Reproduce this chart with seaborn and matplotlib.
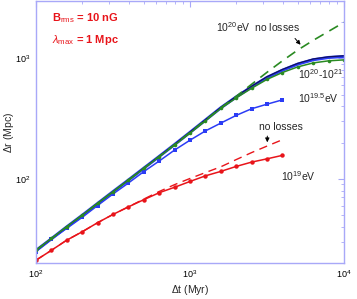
import matplotlib
matplotlib.use("Agg")
import matplotlib.pyplot as plt
import seaborn as sns
import pandas as pd
from matplotlib.ticker import LogLocator, NullFormatter

# ---- data ----
t_myr = [100, 126, 158, 200, 251, 316, 398, 501, 631, 794, 1000,
         1259, 1585, 1995, 2512, 3162, 3981, 5012, 6310, 7943, 10000]
t_short = t_myr[:17]

# 10^20 eV (green, markers)
r_e20 = [25.6, 32.0, 40.0, 50.0, 62.5, 78.0, 97.5, 122.0, 152.5, 191.0, 240.0,
         303.0, 384.6, 470.0, 565.0, 670.0, 764.0, 851.0, 918.0, 955.0, 973.0]
# 10^21 eV (blue, thick)
r_e21 = [25.4, 31.8, 39.8, 49.9, 62.4, 78.2, 97.7, 122.5, 153.5, 192.8, 243.2,
         307.6, 389.0, 478.6, 580.8, 695.0, 798.0, 897.5, 975.0, 1018.6, 1037.5]
# 10^20.5 eV (navy, thin)
r_e205 = [25.5, 31.9, 39.9, 50.0, 62.5, 78.3, 97.9, 122.8, 154.0, 193.5, 244.5,
          309.5, 392.0, 483.0, 588.0, 705.0, 810.0, 910.0, 990.0, 1032.0, 1052.0]
# 10^20 eV, no losses (green dashed)
r_e20_noloss = [25.4, 31.8, 39.8, 49.9, 62.4, 78.2, 97.7, 122.5, 153.5, 192.8, 243.2,
                307.6, 389.0, 484.0, 610.0, 767.0, 955.0, 1175.0, 1413.0, 1679.0, 1995.0]
# 10^19.5 eV (blue squares)
r_e195 = [24.9, 31.5, 38.7, 48.0, 60.0, 74.8, 92.3, 114.8, 140.6, 173.4, 209.4,
          250.0, 290.4, 336.5, 382.0, 416.9, 452.9]
# 10^19 eV (red circles)
r_e19 = [21.1, 25.5, 30.9, 36.4, 43.2, 50.6, 58.5, 67.1, 76.7, 85.1, 95.1,
         105.9, 115.3, 126.8, 137.7, 146.6, 156.7]
# 10^19 eV, no losses (red dashed)
r_e19_noloss = [21.1, 25.5, 30.9, 36.4, 43.2, 50.6, 58.5, 67.9, 78.5, 89.5, 100.7,
                112.7, 125.9, 144.5, 165.2, 187.1, 211.3]

x_ticks = [100, 1000, 10000]
x_ticklabels = [r"$10^{2}$", r"$10^{3}$", r"$10^{4}$"]
y_ticks = [100, 1000]
y_ticklabels = [r"$10^{2}$", r"$10^{3}$"]

# ---- style ----
sns.set_theme(style="white")
plt.rcParams["font.family"] = ["Liberation Sans", "DejaVu Sans"]
plt.rcParams["mathtext.fontset"] = "custom"
plt.rcParams["mathtext.rm"] = "Liberation Sans"
plt.rcParams["mathtext.it"] = "Liberation Sans:italic"
plt.rcParams["mathtext.bf"] = "Liberation Sans:bold"

fig = plt.figure(figsize=(3.57, 2.99), dpi=100)
ax = fig.add_axes([0.1008, 0.1204, 0.8628, 0.8763])

RED = "#e8141a"
BLUE = "#2b3cf5"
GREEN = "#2a8a22"
NAVY = "#101060"

def line(x, y, **kw):
    sns.lineplot(x=x, y=y, ax=ax, legend=False, sort=False, estimator=None, **kw)

line(t_short, r_e19_noloss, color=RED, lw=1.0, dashes=(6, 4))
line(t_short, r_e19, color=RED, lw=1.1, marker="o", markersize=3.2,
     markeredgewidth=0)
line(t_short, r_e195, color=BLUE, lw=1.1, marker="s", markersize=3.2,
     markeredgewidth=0)
line(t_myr, r_e21, color=BLUE, lw=2.2)
line(t_myr, r_e205, color=NAVY, lw=0.9)
line(t_myr, r_e20, color=GREEN, lw=1.1, marker="o", markersize=2.6,
     markeredgewidth=0)
line(t_myr, r_e20_noloss, color=GREEN, lw=1.2, dashes=(6, 4))

ax.set_xscale("log")
ax.set_yscale("log")
ax.set_xlim(100, 10000)
ax.set_ylim(20, 3000)

ax.set_xticks(x_ticks)
ax.set_xticklabels(x_ticklabels)
ax.set_yticks(y_ticks)
ax.set_yticklabels(y_ticklabels)
ax.xaxis.set_minor_locator(LogLocator(base=10, subs=range(2, 10)))
ax.yaxis.set_minor_locator(LogLocator(base=10, subs=range(2, 10)))
ax.xaxis.set_minor_formatter(NullFormatter())
ax.yaxis.set_minor_formatter(NullFormatter())

SPINE = "#a8a8f8"
for s in ax.spines.values():
    s.set_color(SPINE)
    s.set_linewidth(1.0)
ax.tick_params(which="both", direction="in", top=True, right=True,
               color=SPINE, labelsize=6.5, labelcolor="black")
ax.tick_params(which="major", length=4, width=0.8, pad=4)
ax.tick_params(which="minor", length=2.5, width=0.6)

ax.set_xlabel(r"$\Delta$t (Myr)", fontsize=7.5, labelpad=2)
ax.set_ylabel(r"$\Delta$r (Mpc)", fontsize=7.5)
ax.yaxis.set_label_coords(-0.066, 0.5)

# ---- annotations ----
ax.text(0.051, 0.935, r"B$_{\rm rms}$ = 10 nG", transform=ax.transAxes,
        color=RED, fontsize=8, fontweight="bold", va="center")
ax.text(0.051, 0.85, r"$\lambda_{\rm max}$ = 1 Mpc", transform=ax.transAxes,
        color=RED, fontsize=8, fontweight="bold", va="center")

ax.text(0.585, 0.902, r"10$^{20}$eV  no losses", transform=ax.transAxes,
        fontsize=7.5, va="center")
ax.text(0.85, 0.722, r"10$^{20}$-10$^{21}$", transform=ax.transAxes,
        fontsize=7.5, va="center")
ax.text(0.85, 0.63, r"10$^{19.5}$eV", transform=ax.transAxes,
        fontsize=7.5, va="center")
ax.text(0.725, 0.52, "no losses", transform=ax.transAxes,
        fontsize=7.5, va="center")
ax.text(0.795, 0.33, r"10$^{19}$eV", transform=ax.transAxes,
        fontsize=7.5, va="center")

ax.annotate("", xy=(0.865, 0.825), xytext=(0.835, 0.865),
            xycoords="axes fraction",
            arrowprops=dict(arrowstyle="-|>", color="black", lw=0.7,
                            mutation_scale=6))
ax.annotate("", xy=(0.751, 0.45), xytext=(0.751, 0.495),
            xycoords="axes fraction",
            arrowprops=dict(arrowstyle="-|>", color="black", lw=0.7,
                            mutation_scale=6))

fig.savefig("out.png", dpi=100)
